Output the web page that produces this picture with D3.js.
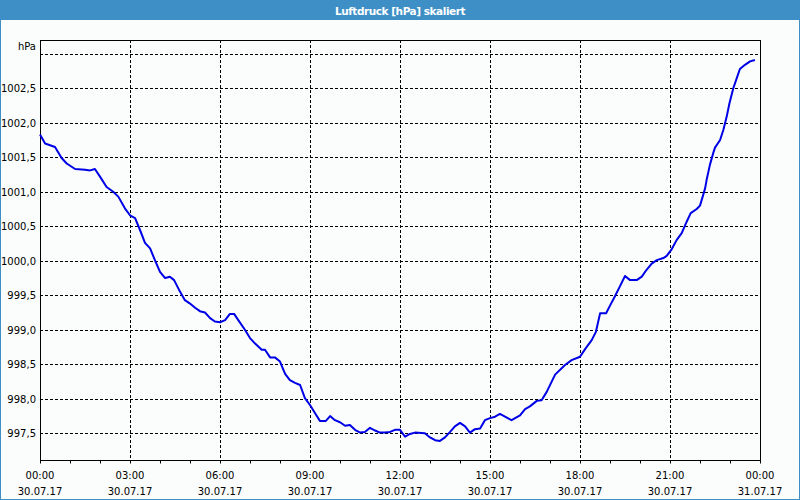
<!DOCTYPE html>
<html>
<head>
<meta charset="utf-8">
<script src="https://cdn.jsdelivr.net/npm/d3@7"></script>
<style>
  html, body { margin: 0; padding: 0; background: #fafdfb; }
  svg { display: block; }
  text { font-family: "DejaVu Sans", Verdana, sans-serif; }
</style>
</head>
<body>
<svg id="chart" width="800" height="500"></svg>
<script>
// ---- data ----
const title = "Luftdruck [hPa] skaliert";
const unitLabel = "hPa";
// hours after 30.07.17 00:00
const hours = [0.0,0.17,0.5,0.72,0.89,1.17,1.5,1.67,1.83,2.0,2.22,2.44,2.61,2.83,3.0,3.17,3.33,3.5,3.67,3.83,
  4.0,4.17,4.33,4.47,4.67,4.83,5.0,5.17,5.33,5.5,5.67,5.83,6.0,6.17,6.33,6.47,6.61,6.83,7.0,7.17,7.39,7.5,7.67,7.83,
  8.0,8.17,8.33,8.5,8.67,8.83,9.0,9.17,9.33,9.53,9.67,9.83,10.0,10.17,10.33,10.5,10.67,10.83,11.0,11.17,11.33,11.5,
  11.67,11.83,12.0,12.17,12.33,12.5,12.83,13.0,13.17,13.33,13.5,13.67,13.83,14.0,14.17,14.33,14.5,14.67,14.83,15.0,
  15.17,15.33,15.5,15.72,16.0,16.17,16.33,16.56,16.72,16.89,17.17,17.5,17.72,18.0,18.17,18.39,18.53,18.67,18.87,19.0,
  19.17,19.33,19.5,19.67,19.89,20.06,20.22,20.39,20.56,20.78,20.89,21.06,21.22,21.39,21.56,21.69,21.89,22.0,22.09,
  22.17,22.22,22.33,22.44,22.5,22.67,22.78,22.89,22.98,23.11,23.22,23.33,23.5,23.67,23.83];
const pressure = [1001.83,1001.70,1001.65,1001.49,1001.41,1001.33,1001.32,1001.31,1001.33,1001.22,1001.07,1001.00,1000.93,1000.76,1000.66,1000.62,1000.45,1000.26,1000.18,1000.01,
  999.84,999.75,999.77,999.72,999.55,999.43,999.38,999.32,999.27,999.25,999.17,999.12,999.11,999.14,999.23,999.23,999.14,999.00,998.88,998.80,998.71,998.71,998.60,998.60,
  998.54,998.36,998.27,998.23,998.20,998.01,997.91,997.79,997.68,997.68,997.75,997.69,997.66,997.61,997.62,997.55,997.51,997.52,997.58,997.54,997.51,997.51,
  997.52,997.55,997.55,997.45,997.49,997.51,997.50,997.44,997.40,997.39,997.44,997.52,997.60,997.65,997.60,997.51,997.56,997.57,997.69,997.72,
  997.74,997.78,997.74,997.69,997.76,997.85,997.89,997.97,997.98,998.10,998.35,998.49,998.56,998.61,998.72,998.85,998.97,999.24,999.24,999.35,
  999.49,999.63,999.78,999.72,999.72,999.77,999.87,999.96,1000.01,1000.04,1000.07,1000.17,1000.30,1000.40,1000.57,1000.69,1000.75,1000.80,1000.93,
  1001.05,1001.17,1001.39,1001.56,1001.64,1001.75,1001.90,1002.09,1002.28,1002.50,1002.64,1002.78,1002.84,1002.89,1002.91];
// grid lines at every 0.5 hPa; labels on all but the top one (where "hPa" sits)
const yGrid = [997.5,998.0,998.5,999.0,999.5,1000.0,1000.5,1001.0,1001.5,1002.0,1002.5,1003.0];
const yLabels = [997.5,998.0,998.5,999.0,999.5,1000.0,1000.5,1001.0,1001.5,1002.0,1002.5];
const xTickHours = [0,3,6,9,12,15,18,21,24];
const yDomain = [997.113, 1003.2];

// ---- layout ----
const svg = d3.select("#chart");
const W = 800, H = 500;
const m = {left: 40, right: 40, top: 40, bottom: 40};
const t0 = new Date(2017, 6, 30, 0, 0);
const toDate = h => new Date(t0.getTime() + h * 3600000);

const x = d3.scaleTime().domain([t0, toDate(24)]).range([m.left, W - m.right]);
const y = d3.scaleLinear().domain(yDomain).range([H - m.bottom, m.top]);

// background
svg.append("rect").attr("x", 0).attr("y", 0).attr("width", W).attr("height", H).attr("fill", "#fafdfb");
// title bar
svg.append("rect").attr("x", 0).attr("y", 0).attr("width", W).attr("height", 20).attr("fill", "#3d8fc5");
svg.append("text").attr("x", W / 2).attr("y", 14.5).attr("text-anchor", "middle")
  .attr("fill", "#ffffff").attr("font-size", 10.5).attr("font-weight", "bold")
  .attr("letter-spacing", -0.45).text(title);
// outer frame (blue)
svg.append("rect").attr("x", 0.5).attr("y", 0.5).attr("width", W - 1).attr("height", H - 1)
  .attr("fill", "none").attr("stroke", "#3d8fc5").attr("stroke-width", 1);

// grid
const grid = svg.append("g").attr("stroke", "#000").attr("stroke-width", 1).attr("stroke-dasharray", "3,2");
yGrid.forEach(v => {
  const yy = Math.round(y(v)) + 0.5;
  grid.append("line").attr("x1", m.left).attr("x2", W - m.right).attr("y1", yy).attr("y2", yy);
});
xTickHours.slice(1, -1).forEach(h => {
  const xx = Math.round(x(toDate(h))) + 0.5;
  grid.append("line").attr("x1", xx).attr("x2", xx).attr("y1", m.top).attr("y2", H - m.bottom);
});

// y axis labels
const yAxis = d3.axisLeft(y).tickValues(yLabels).tickSize(0).tickPadding(4)
  .tickFormat(d => d3.format(".1f")(d).replace(".", ","));
const gy = svg.append("g").attr("transform", `translate(${m.left},0)`).call(yAxis);
gy.select(".domain").remove();
gy.selectAll("text").attr("font-family", "DejaVu Sans, Verdana, sans-serif").attr("font-size", 10).attr("fill", "#000");

svg.append("text").attr("x", 36).attr("y", 50).attr("text-anchor", "end").attr("font-size", 10).attr("fill", "#000").text(unitLabel);

// x axis: hourly ticks, labels every 3 h
const xAxis = d3.axisBottom(x).ticks(d3.timeHour.every(1)).tickSize(3).tickFormat("");
const gx = svg.append("g").attr("transform", `translate(0,${H - m.bottom + 0.5})`).call(xAxis);
gx.select(".domain").remove();
gx.selectAll("line").attr("stroke", "#000");

const fmtT = d3.timeFormat("%H:%M"), fmtD = d3.timeFormat("%d.%m.%y");
const lab = svg.append("g").attr("font-size", 10).attr("fill", "#000").attr("text-anchor", "middle");
xTickHours.forEach(h => {
  const d = toDate(h), xx = x(d);
  lab.append("text").attr("x", xx).attr("y", 479).text(fmtT(d));
  lab.append("text").attr("x", xx).attr("y", 495).text(fmtD(d));
});

// plot frame
svg.append("rect").attr("x", m.left + 0.5).attr("y", m.top + 0.5)
  .attr("width", W - m.left - m.right).attr("height", H - m.top - m.bottom)
  .attr("fill", "none").attr("stroke", "#000").attr("stroke-width", 1);

// line
const data = hours.map((h, i) => ({t: toDate(h), v: pressure[i]}));
svg.append("path").datum(data)
  .attr("fill", "none").attr("stroke", "#0000e6").attr("stroke-width", 2)
  .attr("stroke-linejoin", "round")
  .attr("d", d3.line().x(d => x(d.t)).y(d => y(d.v)));
</script>
</body>
</html>
